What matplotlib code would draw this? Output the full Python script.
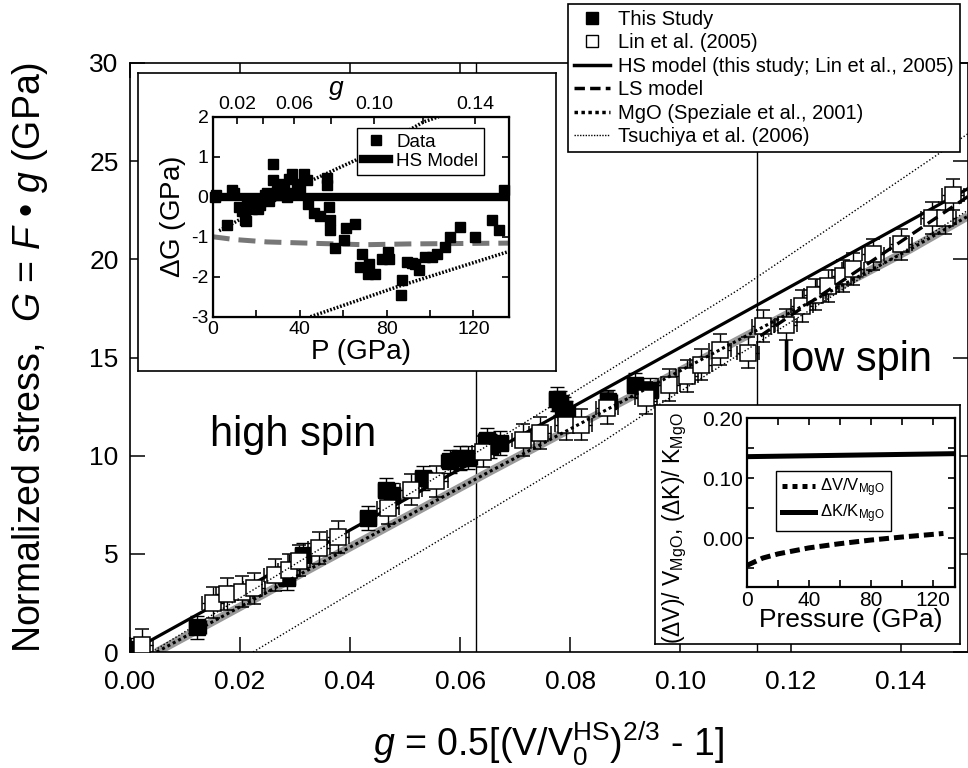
import numpy as np
import matplotlib
matplotlib.use("Agg")
import matplotlib.pyplot as plt
from matplotlib.lines import Line2D

plt.rcParams['font.family'] = ['Liberation Sans', 'DejaVu Sans']
plt.rcParams['mathtext.fontset'] = 'custom'
plt.rcParams['mathtext.rm'] = 'Liberation Sans'
plt.rcParams['mathtext.it'] = 'Liberation Sans:italic'
plt.rcParams['mathtext.bf'] = 'Liberation Sans:bold'
plt.rcParams['axes.unicode_minus'] = False

# ---- main panel data: G = F*g versus g ----
study_g = [0.0, 0.0123, 0.0285, 0.0315, 0.0433, 0.0466, 0.0476, 0.0533, 0.0581, 0.0599,
           0.0615, 0.0648, 0.0655, 0.0672, 0.0776, 0.0781, 0.0788, 0.0793, 0.0869, 0.0917, 0.0944]
study_G = [0.14, 1.26, 3.76, 4.95, 6.82, 8.27, 8.0, 8.86, 9.71, 9.88,
           9.9, 10.8, 10.5, 10.65, 12.9, 12.69, 12.4, 12.18, 12.77, 13.6, 13.37]

lin_g = [0.0022, 0.0151, 0.0176, 0.0203, 0.0226, 0.0264, 0.029, 0.0308, 0.0344, 0.0379,
         0.0469, 0.051, 0.0557, 0.0642, 0.0714, 0.0745, 0.0793, 0.082, 0.0866, 0.0938,
         0.098, 0.1011, 0.1038, 0.1071, 0.1123, 0.115, 0.1192, 0.122, 0.1244, 0.1268,
         0.1295, 0.1313, 0.135, 0.1401, 0.1456, 0.148, 0.1495]
lin_G = [0.36, 2.52, 2.96, 3.08, 3.25, 3.93, 4.18, 4.66, 5.29, 5.85,
         7.33, 8.27, 8.69, 10.2, 10.8, 11.16, 11.58, 11.58, 12.43, 12.94,
         13.6, 14.05, 14.64, 15.4, 15.24, 16.6, 16.68, 17.62, 18.2, 18.64,
         19.15, 19.5, 20.26, 20.77, 22.1, 22.1, 23.3]
study_gerr, study_Gerr = 0.0015, 0.6
lin_gerr, lin_Gerr = 0.002, 0.8

hs_g = [0.0, 0.0805, 0.1522]
hs_G = [0.0, 12.5, 23.6]
ls_g = [0.1145, 0.1522]
ls_G = [16.1, 23.2]
mgo_g = [0.0049, 0.0654, 0.1416, 0.1522]
mgo_G = [0.0, 9.2, 20.5, 22.2]
ts_hi_g = [0.004, 0.0424, 0.0793, 0.1108, 0.1465, 0.1522]
ts_hi_G = [0.0, 6.6, 13.0, 18.5, 25.3, 26.4]
ts_lo_g = [0.0224, 0.0654, 0.0853, 0.095, 0.1416, 0.1522]
ts_lo_G = [0.0, 7.24, 10.6, 12.4, 20.6, 22.5]
spin_bounds = [0.0629, 0.1139]

# ---- inset 1: residuals dG vs P ----
res_P = [1.1, 1.5, 6.4, 8.8, 10, 12, 13.5, 14.9, 15.4, 16, 18, 19, 20, 21, 22, 23.3, 24, 25, 26,
         27.9, 27.9, 29.5, 30, 31, 32.5, 33, 34, 35, 36.4, 37, 38.7, 40, 41.8, 43.3, 44, 46.4,
         49.5, 52.5, 52.5, 53.3, 54, 53.8, 56.4, 60.2, 61.4, 65.6, 68.7, 68, 71.7, 71.3, 74.8,
         77.8, 80.9, 81.3, 87.1, 86.6, 89.4, 91.5, 93.3, 94.8, 97.8, 100.9, 103.2, 107, 109.4,
         114, 120.9, 128.6, 131.6, 133.9]
res_dG = [0.0, 0.05, -0.71, 0.17, 0.1, -0.25, -0.35, -0.58, -0.6, -0.1, -0.3, -0.05, -0.15, -0.3,
          -0.2, -0.08, 0.05, 0.1, -0.1, 0.83, 0.42, 0.15, 0.05, 0.2, 0.33, 0.2, 0.0, 0.45, 0.58,
          0.1, 0.33, 0.2, 0.58, 0.42, -0.17, -0.4, -0.47, 0.46, 0.29, -0.25, -0.58, -0.83, -1.29,
          -1.08, -0.79, -0.67, -1.42, -1.75, -1.67, -1.92, -1.92, -1.55, -1.38, -1.55, -2.08,
          -2.46, -1.62, -1.65, -1.67, -1.83, -1.5, -1.5, -1.42, -1.25, -1.0, -0.75, -1.0, -0.58,
          -0.83, 0.17]
res_hs_P = [0, 136.2]
res_hs_dG = [0, 0]
res_gray_P = [0, 10, 25, 50, 70, 90, 136.2]
res_gray_dG = [-1.0, -1.07, -1.13, -1.17, -1.2, -1.18, -1.16]
res_up_P = [3, 46, 66, 97, 104]
res_up_dG = [-0.85, 0.42, 0.92, 1.87, 2.0]
res_lo_P = [45, 85, 136.2]
res_lo_dG = [-3.0, -2.25, -1.37]
g_tick_vals = ['0.02', '', '0.06', '', '0.10', '', '0.14']
g_tick_P = [11.1, 23.3, 37.4, 54.4, 74.4, 96.9, 120.9]

# ---- inset 2: MgO differences vs P ----
dk_P = [0, 134.5]
dk_val = [0.136, 0.141]
dv_P = [0, 10, 20, 40, 60, 80, 100, 127]
dv_val = [-0.045, -0.033, -0.026, -0.016, -0.009, -0.003, 0.002, 0.008]

fig = plt.figure(figsize=(9.68, 7.68), dpi=100)

# main axes
ax = fig.add_axes([0.134, 0.151, 0.866, 0.767])
ax.set_xlim(0, 0.1522)
ax.set_ylim(0, 30)
ax.set_xticks(np.arange(0, 0.141, 0.02))
ax.set_xticklabels(['0.00', '0.02', '0.04', '0.06', '0.08', '0.10', '0.12', '0.14'])
ax.set_yticks(np.arange(0, 31, 5))
ax.tick_params(direction='in', length=11, width=1.1, labelsize=19, top=True, right=True)
ax.tick_params(axis='x', pad=13)
ax.tick_params(axis='y', pad=8)
for s in ax.spines.values():
    s.set_linewidth(1.2)

for xb in spin_bounds:
    ax.axvline(xb, color='black', lw=1.0, zorder=1)

ax.plot(mgo_g, mgo_G, color='#9a9a9a', lw=6, solid_capstyle='butt', zorder=1)
ax.plot(hs_g, hs_G, color='black', lw=2.3, zorder=2)
ax.errorbar(study_g, study_G, xerr=study_gerr, yerr=study_Gerr, fmt='s', ms=11,
            mfc='black', mec='black', ecolor='black', elinewidth=1, capsize=5, zorder=3)
ax.errorbar(lin_g, lin_G, xerr=lin_gerr, yerr=lin_Gerr, fmt='s', ms=12, mew=1.1,
            mfc='white', mec='black', ecolor='black', elinewidth=1, capsize=5, zorder=3)
ax.plot(mgo_g, mgo_G, color='black', lw=2.2, ls=(0, (1, 1)), zorder=4)
ax.plot(ls_g, ls_G, color='black', lw=2.4, ls=(0, (3.5, 2)), zorder=4)
ax.plot(ts_hi_g, ts_hi_G, color='black', lw=1.0, ls=(0, (1, 1.5)), zorder=4)
ax.plot(ts_lo_g, ts_lo_G, color='black', lw=1.0, ls=(0, (1, 1.5)), zorder=4)

ax.text(0.0296, 10.5, 'high spin', fontsize=30, ha='center', va='baseline')
ax.text(0.1321, 14.3, 'low spin', fontsize=30, ha='center', va='baseline')

ax.set_xlabel(r'$g$ = 0.5[(V/V$_0^{\mathrm{HS}}$)$^{2/3}$ - 1]', fontsize=27, labelpad=18)
ax.set_ylabel(r'Normalized stress,  $G$ = $F$ • $g$ (GPa)', fontsize=27)
ax.yaxis.set_label_coords(-0.095, 0.5)

handles = [
    Line2D([], [], marker='s', ls='none', color='black', ms=9),
    Line2D([], [], marker='s', ls='none', mfc='white', mec='black', ms=9, mew=1),
    Line2D([], [], color='black', lw=2.5),
    Line2D([], [], color='black', lw=2.5, ls=(0, (3, 1.5))),
    Line2D([], [], color='black', lw=2.5, ls=(0, (1, 1))),
    Line2D([], [], color='black', lw=1.0, ls=(0, (1, 1))),
]
labels = ['This Study', 'Lin et al. (2005)', 'HS model (this study; Lin et al., 2005)',
          'LS model', 'MgO (Speziale et al., 2001)', 'Tsuchiya et al. (2006)']
leg = fig.legend(handles, labels, loc='upper right', bbox_to_anchor=(0.9917, 0.9948),
                 bbox_transform=fig.transFigure, fontsize=14.5, frameon=True, fancybox=False,
                 edgecolor='black', framealpha=1, handlelength=1.8, handletextpad=0.4,
                 labelspacing=0.22, borderpad=0.3, borderaxespad=0)
leg.get_frame().set_linewidth(1.2)
leg.set_zorder(10)

# inset 1 background box
box1 = fig.add_axes([0.1426, 0.5163, 0.4318, 0.389])
box1.set_xticks([])
box1.set_yticks([])
for s in box1.spines.values():
    s.set_linewidth(1.2)

ax1 = fig.add_axes([0.2197, 0.5876, 0.3058, 0.2604])
ax1.set_xlim(0, 136.2)
ax1.set_ylim(-3, 2)
ax1.plot(res_gray_P, res_gray_dG, color='#777777', lw=3.6, ls=(0, (3.4, 1.8)), zorder=2)
ax1.plot(res_hs_P, res_hs_dG, color='black', lw=6, zorder=2)
ax1.plot(res_up_P, res_up_dG, color='black', lw=2.5, ls=(0, (0.5, 0.5)), zorder=2)
ax1.plot(res_lo_P, res_lo_dG, color='black', lw=2.5, ls=(0, (0.5, 0.5)), zorder=2)
ax1.plot(res_P, res_dG, 's', color='black', ms=7.5, zorder=3, clip_on=False)
ax1.set_xticks([0, 40, 80, 120])
ax1.set_xticks([20, 60, 100], minor=True)
ax1.set_yticks([2, 1, 0, -1, -2, -3])
ax1.tick_params(which='both', direction='in', length=5, width=1.2, labelsize=14,
                right=True, pad=3)
for s in ax1.spines.values():
    s.set_linewidth(1.6)
ax1.set_xlabel('P (GPa)', fontsize=20, labelpad=1)
ax1.set_ylabel(r'$\Delta$G (GPa)', fontsize=20, labelpad=2)
ax1top = ax1.twiny()
ax1top.set_xlim(ax1.get_xlim())
ax1top.set_xticks(g_tick_P)
ax1top.set_xticklabels(g_tick_vals)
ax1top.tick_params(direction='in', length=5, width=1.2, labelsize=14, pad=3)
ax1.text(0.419, 1.085, 'g', transform=ax1.transAxes, fontsize=19, style='italic',
         ha='center', va='bottom')
leg1 = ax1.legend([Line2D([], [], marker='s', ls='none', color='black', ms=7),
                   Line2D([], [], color='black', lw=6)], ['Data', 'HS Model'],
                  loc='upper right', bbox_to_anchor=(0.5, 0.8333),
                  bbox_transform=fig.transFigure, fontsize=13.5, fancybox=False,
                  edgecolor='black', framealpha=1, handlelength=1.4, handletextpad=0.4,
                  labelspacing=0.1, borderpad=0.3, borderaxespad=0)
leg1.get_frame().set_linewidth(1.0)

# inset 2 background box
box2 = fig.add_axes([0.6767, 0.1615, 0.3151, 0.3112])
box2.set_xticks([])
box2.set_yticks([])
for s in box2.spines.values():
    s.set_linewidth(1.2)

ax2 = fig.add_axes([0.772, 0.2361, 0.2146, 0.2193])
ax2.set_xlim(0, 134.5)
ax2.set_ylim(-0.0807, 0.2)
ax2.plot(dk_P, dk_val, color='black', lw=3.6, zorder=2)
ax2.plot(dv_P, dv_val, color='black', lw=3.6, ls=(0, (2, 1)), zorder=2)
ax2.set_xticks([0, 40, 80, 120])
ax2.set_xticks([20, 60, 100], minor=True)
ax2.set_yticks([0.0, 0.1, 0.2])
ax2.set_yticklabels(['0.00', '0.10', '0.20'])
ax2.set_yticks([-0.05, 0.05, 0.15], minor=True)
ax2.tick_params(which='both', direction='in', length=5, width=1.2, labelsize=15,
                top=True, right=True, pad=3)
for s in ax2.spines.values():
    s.set_linewidth(1.6)
ax2.set_xlabel('Pressure (GPa)', fontsize=19, labelpad=-1)
ax2.set_ylabel(r'($\Delta$V)/ V$_{\mathrm{MgO}}$, ($\Delta$K)/ K$_{\mathrm{MgO}}$', fontsize=16.5)
ax2.yaxis.set_label_coords(-0.28, 0.35)
leg2 = ax2.legend([Line2D([], [], color='black', lw=3.6, ls=(0, (1, 1))),
                   Line2D([], [], color='black', lw=3.6)],
                  [r'$\Delta$V/V$_{\mathrm{MgO}}$', r'$\Delta$K/K$_{\mathrm{MgO}}$'],
                  loc='upper left', bbox_to_anchor=(0.8017, 0.3871),
                  bbox_transform=fig.transFigure, fontsize=12, fancybox=False,
                  edgecolor='black', framealpha=1, handlelength=2.0, handletextpad=0.3,
                  labelspacing=0.2, borderpad=0.35, borderaxespad=0)
leg2.get_frame().set_linewidth(1.0)

fig.savefig('out.png', dpi=100)
